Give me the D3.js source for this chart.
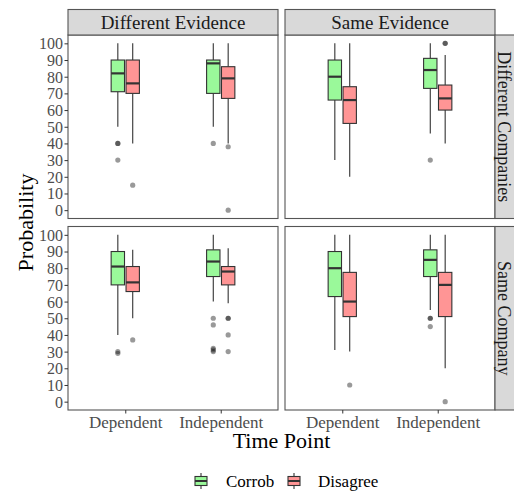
<!DOCTYPE html>
<html>
<head>
<meta charset="utf-8">
<script src="https://cdn.jsdelivr.net/npm/d3@7"></script>
<style>
  body { margin: 0; background: #fff; }
  text { font-family: "Liberation Serif", "DejaVu Serif", serif; }
</style>
</head>
<body>
<svg id="chart" width="514" height="491"></svg>
<script>
// Facets and categories
var evidence = ["Different Evidence", "Same Evidence"];
var companies = ["Different Companies", "Same Company"];
var timePoints = ["Dependent", "Independent"];
var groups = ["Corrob", "Disagree"];
var yTicks = [0, 10, 20, 30, 40, 50, 60, 70, 80, 90, 100];

// Box stats, order: company, evidence, time point, group
var upper  = [100, 100, 100, 100,   100, 100, 100, 93,    100, 91, 100, 92,    100, 100, 100, 100];
var q3     = [90, 90, 90, 86,       90, 74, 91, 75,       90, 81, 91, 81,      90, 77.5, 91, 77.5];
var median = [82, 76, 88, 79,       80, 66, 84, 67,       81, 71.5, 84, 78,    80, 60, 85, 70];
var q1     = [71, 70, 70, 67,       66, 52, 73, 60,       70, 66, 75, 70,      63, 51, 75, 51];
var lower  = [50, 40, 50, 40,       30, 20, 46, 40,       40, 50, 60, 59,      31, 30, 55, 20];
var outliers = [
  [40, 40, 30], [15], [40], [38, 0],
  [], [], [30], [100, 100],
  [30, 29], [37], [50, 46, 32, 31, 30], [50, 50, 40, 30],
  [], [10], [50, 50, 45], [0]
];

var colors = { "Corrob": "#9af99a", "Disagree": "#ff9595" };

var svg = d3.select("#chart");
var panelX = [68, 285], panelW = 210;
var panelY = [35, 226.5], panelH = 183.5;

// x scale: discrete with ggplot-like 0.6 expansion
var x = d3.scaleLinear().domain([0.4, 2.6]).range([0, panelW]);
var y = d3.scaleLinear().domain([-5, 105]).range([panelH, 0]);
var dodge = 0.078, boxW = 0.14;

var fontCol = "#4d4d4d", lineCol = "#333";

companies.forEach(function (comp, ci) {
  evidence.forEach(function (ev, ei) {
    var g = svg.append("g")
      .attr("transform", "translate(" + panelX[ei] + "," + panelY[ci] + ")");

    g.append("rect").attr("width", panelW).attr("height", panelH)
      .attr("fill", "#fff");

    timePoints.forEach(function (tp, ti) {
      groups.forEach(function (gr, gi) {
        var k = ci * 8 + ei * 4 + ti * 2 + gi;
        var cx = x(ti + 1 + (gi === 0 ? -dodge : dodge));
        var hw = (x(boxW) - x(0)) / 2;

        g.append("line")
          .attr("x1", cx).attr("x2", cx)
          .attr("y1", y(upper[k])).attr("y2", y(q3[k]))
          .attr("stroke", lineCol).attr("stroke-width", 1.1);
        g.append("line")
          .attr("x1", cx).attr("x2", cx)
          .attr("y1", y(q1[k])).attr("y2", y(lower[k]))
          .attr("stroke", lineCol).attr("stroke-width", 1.1);
        g.append("rect")
          .attr("x", cx - hw).attr("width", hw * 2)
          .attr("y", y(q3[k])).attr("height", y(q1[k]) - y(q3[k]))
          .attr("fill", colors[gr]).attr("stroke", lineCol).attr("stroke-width", 1.1);
        g.append("line")
          .attr("x1", cx - hw).attr("x2", cx + hw)
          .attr("y1", y(median[k])).attr("y2", y(median[k]))
          .attr("stroke", lineCol).attr("stroke-width", 2.2);

        g.selectAll(null)
          .data(outliers[k])
          .enter()
          .append("circle")
          .attr("cx", cx).attr("cy", function (d) { return y(d); })
          .attr("r", 2.6)
          .attr("fill", "#000").attr("fill-opacity", 0.4);
      });
    });

    // panel border
    g.append("rect").attr("width", panelW).attr("height", panelH)
      .attr("fill", "none").attr("stroke", "#555").attr("stroke-width", 1.1);

    // y axis on left panels
    if (ei === 0) {
      var ya = g.append("g").call(d3.axisLeft(y).tickValues(yTicks).tickSize(3.5).tickSizeOuter(0));
      ya.attr("font-family", null);
      ya.select(".domain").remove();
      ya.selectAll("line").attr("stroke", lineCol);
      ya.selectAll("text").attr("fill", fontCol).style("font-size", "16px")
        .attr("x", -5).attr("dy", "0.34em");
    }
    // x axis on bottom panels
    if (ci === 1) {
      var xa = g.append("g").attr("transform", "translate(0," + panelH + ")")
        .call(d3.axisBottom(x).tickValues([1, 2])
          .tickFormat(function (d) { return timePoints[d - 1]; })
          .tickSize(3.5).tickSizeOuter(0));
      xa.attr("font-family", null);
      xa.select(".domain").remove();
      xa.selectAll("line").attr("stroke", lineCol);
      xa.selectAll("text").attr("fill", fontCol).style("font-size", "17px").attr("y", 6);
    }
    // top strips
    if (ci === 0) {
      svg.append("rect")
        .attr("x", panelX[ei]).attr("y", 9.5).attr("width", panelW).attr("height", panelY[0] - 9.5)
        .attr("fill", "#d9d9d9").attr("stroke", "#555").attr("stroke-width", 1.1);
      svg.append("text")
        .attr("x", panelX[ei] + panelW / 2).attr("y", 22.5)
        .attr("text-anchor", "middle").attr("dy", "0.35em")
        .style("font-size", "19px").attr("fill", "#1a1a1a").text(ev);
    }
    // right strips
    if (ei === 1) {
      var sx = panelX[1] + panelW;
      svg.append("rect")
        .attr("x", sx).attr("y", panelY[ci]).attr("width", 26).attr("height", panelH)
        .attr("fill", "#d9d9d9").attr("stroke", "#555").attr("stroke-width", 1.1);
      svg.append("text")
        .attr("transform", "translate(" + (sx + 9) + "," + (panelY[ci] + panelH / 2) + ") rotate(90)")
        .attr("text-anchor", "middle").attr("dy", "0.32em")
        .style("font-size", "18px").attr("fill", "#1a1a1a").text(comp);
    }
  });
});

// Axis titles
svg.append("text")
  .attr("transform", "translate(25," + ((panelY[0] + panelY[1] + panelH) / 2) + ") rotate(-90)")
  .attr("text-anchor", "middle").attr("dy", "0.35em")
  .style("font-size", "22px").attr("fill", "#000").text("Probability");
svg.append("text")
  .attr("x", (panelX[0] + panelX[1] + panelW) / 2).attr("y", 448)
  .attr("text-anchor", "middle")
  .style("font-size", "22px").attr("fill", "#000").text("Time Point");

// Legend
var legendX = [195, 288], legendTextX = [226, 318], legendY = 481;
groups.forEach(function (gr, i) {
  var lg = svg.append("g").attr("transform", "translate(" + legendX[i] + "," + legendY + ")");
  lg.append("line").attr("x1", 6).attr("x2", 6).attr("y1", -8).attr("y2", 8)
    .attr("stroke", lineCol).attr("stroke-width", 1.1);
  lg.append("rect").attr("x", 0).attr("y", -4.5).attr("width", 12).attr("height", 9)
    .attr("fill", colors[gr]).attr("stroke", lineCol).attr("stroke-width", 1.1);
  lg.append("line").attr("x1", 0).attr("x2", 12).attr("y1", 0).attr("y2", 0)
    .attr("stroke", lineCol).attr("stroke-width", 2);
  svg.append("text").attr("x", legendTextX[i]).attr("y", legendY).attr("dy", "0.35em")
    .style("font-size", "17px").attr("fill", "#000").text(gr);
});
</script>
</body>
</html>
